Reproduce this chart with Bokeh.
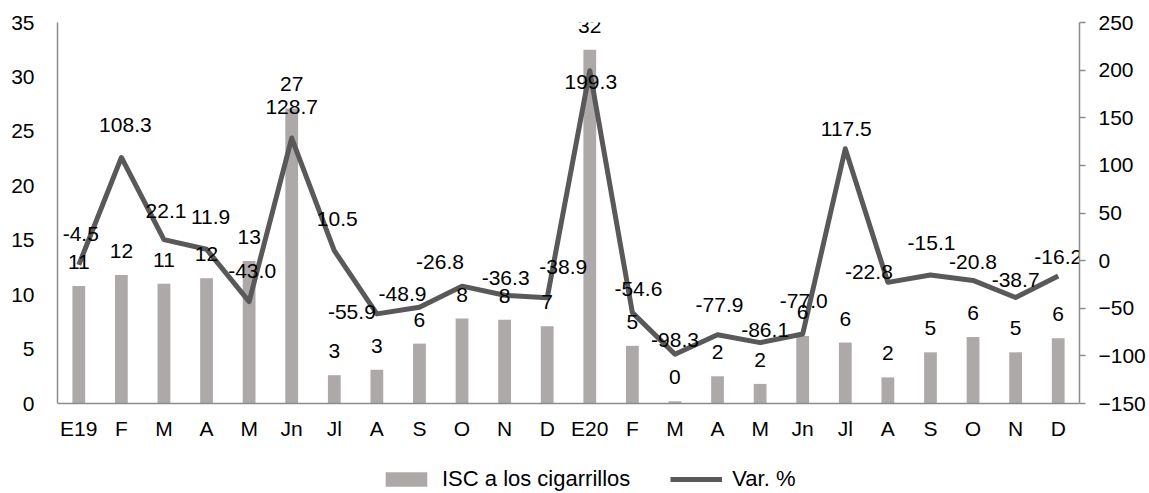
from bokeh.plotting import figure
from bokeh.models import (Range1d, LinearAxis, FixedTicker, Legend, LegendItem,
                          ColumnDataSource)
from bokeh.core.properties import value
from bokeh.embed import file_html
from bokeh.resources import INLINE

# ---- data ----
categories = ["E19", "F", "M", "A", "M", "Jn", "Jl", "A", "S", "O", "N", "D",
              "E20", "F", "M", "A", "M", "Jn", "Jl", "A", "S", "O", "N", "D"]
isc_values = [10.8, 11.8, 11.0, 11.5, 13.1, 27.1, 2.6, 3.1, 5.5, 7.8, 7.7, 7.1,
              32.5, 5.3, 0.2, 2.5, 1.8, 6.2, 5.6, 2.4, 4.7, 6.1, 4.7, 6.0]
var_values = [-4.5, 108.3, 22.1, 11.9, -43.0, 128.7, 10.5, -55.9, -48.9, -26.8,
              -36.3, -38.9, 199.3, -54.6, -98.3, -77.9, -86.1, -77.0, 117.5,
              -22.8, -15.1, -20.8, -38.7, -16.2]
left_ticks = [0, 5, 10, 15, 20, 25, 30, 35]
right_ticks = [-150, -100, -50, 0, 50, 100, 150, 200, 250]

# ---- label placement (style, in screen pixels) ----
var_label_dx = [2, 4, 2, 4, 3, 0, 3, -25, -17, -22, 1, 16,
                1, 6, 0, 2, 5, 1, 1, -19, 1, 0, 0, 0]
var_label_dy = [-31, -32, -29, -32, -31, -31, -32, -2, -13, -24, -17, -31,
                11, -24, -14, -30, -13, -33, -20, -10, -32, -18, -17, -19]

FONT = "Liberation Sans"
BAR_COLOR = "#ADA9A8"
LINE_COLOR = "#595959"
AXIS_COLOR = "#8C8C8C"

# layout (pixels): plot area 381 px tall, plus a 90 px strip below it that
# holds the category labels and the legend
PLOT_H = 381
STRIP_H = 90
left_lo = left_ticks[0] - (left_ticks[-1] - left_ticks[0]) * STRIP_H / PLOT_H
right_lo = right_ticks[0] - (right_ticks[-1] - right_ticks[0]) * STRIP_H / PLOT_H

x = list(range(len(categories)))
src = ColumnDataSource(dict(
    x=x, isc=isc_values, var=var_values,
    isc_lbl=[str(int(round(v))) for v in isc_values],
    var_lbl=[f"{v:.1f}" for v in var_values],
    dx=var_label_dx, dy=var_label_dy,
))

p = figure(frame_width=1022, frame_height=PLOT_H + STRIP_H, output_backend="svg",
           toolbar_location=None,
           x_range=Range1d(-0.5, len(categories) - 0.5),
           y_range=Range1d(left_lo, left_ticks[-1]),
           min_border_left=57, min_border_right=70, min_border_top=22,
           min_border_bottom=0)
p.extra_y_ranges = {"pct": Range1d(right_lo, right_ticks[-1])}
p.outline_line_color = None
p.xgrid.visible = False
p.ygrid.visible = False
p.background_fill_color = "white"

bars = p.vbar(x="x", top="isc", width=0.3, bottom=0, source=src,
              fill_color=BAR_COLOR, line_color=None)
line = p.line(x="x", y="var", source=src, y_range_name="pct",
              line_color=LINE_COLOR, line_width=5, line_join="round")

p.text(x="x", y="isc", text="isc_lbl", source=src, text_align="center",
       text_baseline="middle", y_offset=-24, text_font_size="21px",
       text_font=value(FONT), text_color="black")
p.text(x="x", y="var", text="var_lbl", source=src, y_range_name="pct",
       text_align="center", text_baseline="middle", x_offset="dx",
       y_offset="dy", text_font_size="21px", text_font=value(FONT),
       text_color="black")

# x axis, drawn at the zero line of the left scale
xa = p.xaxis[0]
xa.fixed_location = 0
xa.ticker = FixedTicker(ticks=x)
xa.major_label_overrides = {i: c for i, c in enumerate(categories)}
xa.major_tick_line_color = None
xa.minor_tick_line_color = None
xa.axis_line_color = AXIS_COLOR
xa.axis_line_width = 1.5
xa.major_label_standoff = 7
xa.major_label_text_font = FONT
xa.major_label_text_font_size = "21px"
xa.major_label_text_color = "black"

# left axis
ya = p.yaxis[0]
ya.ticker = FixedTicker(ticks=left_ticks)
ya.bounds = (left_ticks[0], left_ticks[-1])
ya.major_tick_line_color = None
ya.minor_tick_line_color = None
ya.axis_line_color = AXIS_COLOR
ya.axis_line_width = 1.5
ya.major_label_standoff = 17
ya.major_label_text_font = FONT
ya.major_label_text_font_size = "21px"
ya.major_label_text_color = "black"

# right axis
ra = LinearAxis(y_range_name="pct", ticker=FixedTicker(ticks=right_ticks),
                bounds=(right_ticks[0], right_ticks[-1]))
ra.axis_line_color = AXIS_COLOR
ra.axis_line_width = 1.5
ra.major_tick_line_color = AXIS_COLOR
ra.major_tick_line_width = 1.5
ra.major_tick_in = 0
ra.major_tick_out = 6
ra.minor_tick_line_color = None
ra.major_label_standoff = 13
ra.major_label_text_font = FONT
ra.major_label_text_font_size = "21px"
ra.major_label_text_color = "black"
p.add_layout(ra, "right")

legend = Legend(items=[LegendItem(label="ISC a los cigarrillos", renderers=[bars]),
                       LegendItem(label="Var. %", renderers=[line])],
                orientation="horizontal", location=(323, 1),
                border_line_color=None, background_fill_alpha=0,
                label_text_font=FONT, label_text_font_size="22px",
                label_text_color="black",
                glyph_width=52, glyph_height=18, spacing=40, label_standoff=10,
                margin=0, padding=0)
p.add_layout(legend, "center")

open("out.html", "w").write(file_html(p, INLINE))
